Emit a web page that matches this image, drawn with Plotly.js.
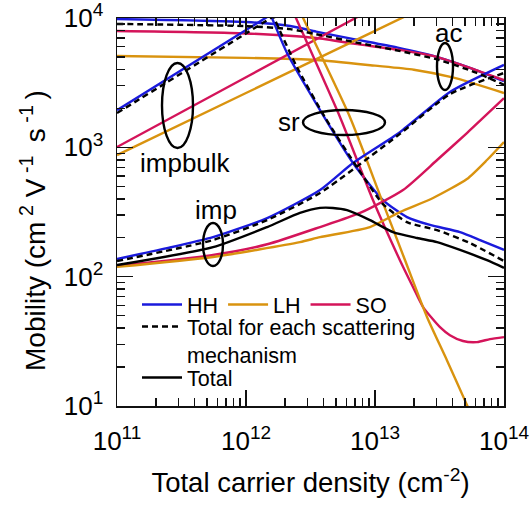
<!DOCTYPE html>
<html>
<head>
<meta charset="utf-8">
<script src="https://cdn.plot.ly/plotly-3.0.1.min.js"></script>
<style>html,body{margin:0;padding:0;background:#fff;}#chart{width:532px;height:506px;}</style>
</head>
<body>
<div id="chart"></div>
<script>
// ---- data (carrier density in cm^-2, mobility in cm^2/Vs) ----
// acoustic phonon
const hhAcN  = [1e11, 1e12, 2.2e12, 3.5e12, 7e12, 1.5e13, 3e13, 6e13, 1e14];
const hhAcMu = [9820, 9310, 8670, 7850, 6840, 5900, 5010, 3980, 3250];
const soAcN  = [1e11, 1e12, 3.5e12, 7e12, 1.5e13, 3e13, 6e13, 1e14];
const soAcMu = [7930, 7600, 7000, 6310, 5690, 5010, 3980, 3310];
const lhAcN  = [1e11, 1e12, 3.5e12, 1e13, 2e13, 4e13, 1e14];
const lhAcMu = [5080, 4920, 4730, 4280, 3980, 3470, 2630];
const totAcN  = [1e11, 1e12, 2.2e12, 3.5e12, 7e12, 1.5e13, 3e13, 6e13, 1e14];
const totAcMu = [9000, 8650, 8200, 7500, 6500, 5600, 4800, 3800, 3050];
// bulk impurity
const hhIbN  = [1e11, 1e12, 2e12];
const hhIbMu = [1940, 8070, 12390];
const totIbN  = [1e11, 1e12, 2e12];
const totIbMu = [1840, 7600, 11700];
const soIbN  = [1e11, 1e12, 1e13];
const soIbMu = [1005, 3480, 12070];
const lhIbN  = [1e11, 1e12, 1e13, 2e13];
const lhIbMu = [871, 2630, 7950, 11100];
// surface roughness
const hhSrN  = [1.5e12, 1.59e12, 2.08e12, 3.75e12, 6.75e12, 1.153e13, 1.77e13, 2.67e13, 4.56e13, 6.52e13, 1e14];
const hhSrMu = [11500, 10000, 5360, 1940, 757, 391, 289, 251, 221, 192, 161];
const totSrN  = [1.6e12, 1.68e12, 2.48e12, 4.09e12, 7.24e12, 1.153e13, 1.77e13, 3.03e13, 5.45e13, 1e14];
const totSrMu = [11000, 9660, 4180, 1710, 705, 364, 264, 229, 182, 132];
const soSrN  = [2.2e12, 2.44e12, 5.36e12, 9.64e12, 1.56e13, 1.97e13, 2.36e13, 3.19e13, 3.81e13, 4.81e13, 6.18e13, 7.78e13, 1e14];
const soSrMu = [12600, 10000, 1710, 391, 134, 83.2, 58.2, 40.7, 35.3, 31.8, 31.2, 32.9, 34.1];
const lhSrN  = [2.5e12, 2.77e12, 6.40e12, 1.13e13, 1.71e13, 2.53e13, 3.61e13, 5.16e13, 6e13];
const lhSrMu = [12400, 10000, 1710, 391, 134, 48.8, 22.6, 10.2, 7.3];
// interface impurity
const hhImpN  = [1e11, 2.44e11, 5.55e11, 1.46e12, 3.75e12, 6.75e12, 1.56e13, 3.81e13, 1e14];
const hhImpMu = [137, 166, 202, 284, 468, 757, 1310, 2680, 4340];
const totImpN  = [1e11, 5.55e11, 1.46e12, 3.75e12, 1.56e13, 3.81e13, 1e14];
const totImpMu = [132, 192, 274, 444, 1270, 2580, 3760];
const soImpN  = [1e11, 5.55e11, 1.46e12, 3.75e12, 7.66e12, 1.65e13, 3.03e13, 5.16e13, 1e14];
const soImpMu = [121, 147, 178, 242, 311, 468, 798, 1290, 2400];
const lhImpN  = [1e11, 5.55e11, 2.62e12, 3.75e12, 9.14e12, 1.56e13, 2.82e13, 5.16e13, 7.38e13, 1e14];
const lhImpMu = [119, 142, 185, 202, 242, 316, 406, 569, 798, 1100];
// total
const totalN  = [1e11, 5.55e11, 1.46e12, 2.62e12, 3.75e12, 4.72e12, 6.07e12, 9.14e12, 1.38e13, 2.12e13, 3.03e13, 4.56e13, 7.38e13, 1e14];
const totalMu = [123, 169, 242, 311, 340, 340, 327, 274, 221, 199, 185, 161, 134, 117];

// tick labels
const xTickVals = [1e11, 1e12, 1e13, 1e14];
const xTickExp  = ['11', '12', '13', '14'];
const yTickVals = [1e1, 1e2, 1e3, 1e4];
const yTickExp  = ['1', '2', '3', '4'];

const legendNames = ['HH', 'LH', 'SO', 'Total for each scattering<br>mechanism', 'Total'];

// ---- styles ----
const BLUE = '#1a1adc', ORANGE = '#d9930f', RED = '#d4145a', BLACK = '#000000';
const LW = 2.4;
function tr(x, y, color, opts) {
  opts = opts || {};
  return {
    x: x, y: y, type: 'scatter', mode: 'lines',
    line: {color: color, width: LW, dash: opts.dash || 'solid', shape: 'spline', smoothing: 0.6},
    name: opts.name || '', showlegend: !!opts.name, legend: opts.legend || 'legend',
    hoverinfo: 'skip'
  };
}
const DASH = '6px,4px';
const data = [
  tr(hhAcN, hhAcMu, BLUE, {name: legendNames[0]}),
  tr(lhAcN, lhAcMu, ORANGE, {name: legendNames[1]}),
  tr(soAcN, soAcMu, RED, {name: legendNames[2]}),
  tr(hhIbN, hhIbMu, BLUE), tr(soIbN, soIbMu, RED), tr(lhIbN, lhIbMu, ORANGE),
  tr(hhSrN, hhSrMu, BLUE), tr(soSrN, soSrMu, RED), tr(lhSrN, lhSrMu, ORANGE),
  tr(hhImpN, hhImpMu, BLUE), tr(soImpN, soImpMu, RED), tr(lhImpN, lhImpMu, ORANGE),
  tr(totAcN, totAcMu, BLACK, {dash: DASH, name: legendNames[3], legend: 'legend2'}),
  tr(totIbN, totIbMu, BLACK, {dash: DASH}),
  tr(totSrN, totSrMu, BLACK, {dash: DASH}),
  tr(totImpN, totImpMu, BLACK, {dash: DASH}),
  tr(totalN, totalMu, BLACK, {name: legendNames[4], legend: 'legend3'})
];

// minor tick positions (2..9 within each decade)
function minorVals(d0, d1) {
  const v = [];
  for (let d = d0; d < d1; d++) for (let k = 2; k <= 9; k++) v.push(k * Math.pow(10, d));
  return v;
}
const powText = e => '10<sup><span style="font-size:19px">' + e + '</span></sup>';

// pixel -> paper helpers for decorations
const L = 117, R = 504, T = 18, B = 406;
const px = v => (v - L) / (R - L);
const py = v => (B - v) / (B - T);

const FONT = 'Liberation Sans, Arial, Helvetica, sans-serif';
function ell(x0, x1, y0, y1) {
  return {type: 'circle', xref: 'paper', yref: 'paper', x0: px(x0), x1: px(x1), y0: py(y1), y1: py(y0),
          line: {color: '#000', width: 2.4}};
}
function lab(text, x, y) {
  return {text: text, xref: 'paper', yref: 'paper', x: px(x), y: py(y), showarrow: false,
          xanchor: 'center', yanchor: 'middle', font: {family: FONT, size: 26, color: '#000'}};
}
function axis(range, tv, tt, mv, extra) {
  return Object.assign({
    type: 'log', range: range, showgrid: false, zeroline: false, showline: true,
    linecolor: '#111', linewidth: 1.5, mirror: 'allticks',
    ticks: 'inside', ticklen: 16, tickwidth: 1.5, tickcolor: '#111',
    tickmode: 'array', tickvals: tv, ticktext: tt, ticklabeloverflow: 'allow',
    tickfont: {family: FONT, size: 26, color: '#000'},
    minor: {ticks: 'inside', ticklen: 8, tickwidth: 1.5, tickcolor: '#111', tickmode: 'array', tickvals: mv, showgrid: false}
  }, extra);
}
const legCommon = {orientation: 'h', xanchor: 'left', yanchor: 'top', bgcolor: 'rgba(0,0,0,0)',
                   font: {family: FONT, size: 21.5, color: '#000'}, itemwidth: 40, valign: 'top'};
const NB = '\u00a0', TH = '\u2009';
const yTitle = 'Mobility (cm' + TH + '<sup>2</sup>' + NB + 'V' + TH + '<sup>-1</sup>' + TH + NB + 's' + TH + '<sup>-1</sup>' + TH + ')';
const layout = {
  width: 532, height: 506,
  margin: {l: L, r: 532 - R, t: T, b: 506 - B},
  paper_bgcolor: '#fff', plot_bgcolor: '#fff',
  xaxis: axis([10.9999, 14.0001], xTickVals, xTickExp.map(powText), minorVals(11, 14), {
    ticklabelstandoff: 11,
    title: {text: 'Total carrier density (cm<sup>-2</sup>)', font: {family: FONT, size: 27.5, color: '#000'}, standoff: 18}}),
  yaxis: axis([0.9999, 4.0001], yTickVals, yTickExp.map(powText), minorVals(1, 4), {
    ticklabelstandoff: 7}),
  legend: Object.assign({}, legCommon, {x: px(137), y: py(284)}),
  legend2: Object.assign({}, legCommon, {x: px(137), y: py(306)}),
  legend3: Object.assign({}, legCommon, {x: px(137), y: py(357)}),
  shapes: [ell(162, 193, 63, 148), ell(203, 223, 223, 266), ell(303, 385, 110, 135), ell(437, 453, 43, 90)],
  annotations: [
    lab('impbulk', 185, 163), lab('imp', 216, 210), lab('sr', 289, 122), lab('ac', 448, 33),
    {text: yTitle, textangle: -90, xref: 'paper', yref: 'paper', x: px(33), y: py(231), showarrow: false,
     xanchor: 'center', yanchor: 'middle', font: {family: FONT, size: 28, color: '#000'}}
  ],
  showlegend: true
};
Plotly.newPlot('chart', data, layout, {displayModeBar: false, staticPlot: true});
</script>
</body>
</html>
